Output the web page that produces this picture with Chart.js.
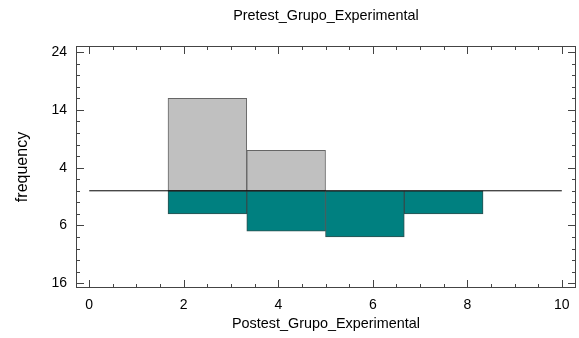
<!DOCTYPE html>
<html>
<head>
  <title>Pretest / Postest histogram</title>
  <meta charset="utf-8" />
  <style>
    html, body { margin: 0; padding: 0; background: #fff; overflow: hidden; }
    #chart { display: block; }
  </style>
</head>
<body>
<canvas id="chart" width="579" height="338"></canvas>

<script src="https://cdn.jsdelivr.net/npm/chart.js"></script>
<script>
  // data
  var binCenters = [2.5, 4.167, 5.833, 7.5];
  var pretestFreq = [16, 7, 0, 0];
  var postestFreq = [4, 7, 8, 4];
  var xTicks = [0, 2, 4, 6, 8, 10];
  var yTicks = [-16, -6, 4, 14, 24];
  var zeroLineX = [0, 10];

  var FONT = 'Liberation Sans, Arial, sans-serif';

  // frame round the plot plus inward major/minor ticks, like the original
  var framePlugin = {
    id: 'frame',
    afterDatasetsDraw: function(chart) {
      var ctx = chart.ctx, a = chart.chartArea;
      var xs = chart.scales.x, ys = chart.scales.y;
      ctx.save();
      ctx.strokeStyle = '#444';
      ctx.lineWidth = 1;
      ctx.strokeRect(Math.round(a.left) + 0.5, Math.round(a.top) + 0.5,
        Math.round(a.right - a.left) - 1, Math.round(a.bottom - a.top) - 1);
      ctx.beginPath();
      var v, p, len;
      for (v = 0; v <= 10.001; v += 0.5) {
        p = Math.round(xs.getPixelForValue(v)) + 0.5;
        len = xTicks.indexOf(Math.round(v * 10) / 10) >= 0 ? 8 : 4;
        ctx.moveTo(p, a.bottom); ctx.lineTo(p, a.bottom - len);
        ctx.moveTo(p, a.top); ctx.lineTo(p, a.top + len);
      }
      for (v = -16; v <= 24; v += 2) {
        p = Math.round(ys.getPixelForValue(v)) + 0.5;
        len = yTicks.indexOf(v) >= 0 ? 8 : 4;
        ctx.moveTo(a.left, p); ctx.lineTo(a.left + len, p);
        ctx.moveTo(a.right, p); ctx.lineTo(a.right - len, p);
      }
      ctx.stroke();
      ctx.restore();
    }
  };

  var ctx = document.getElementById('chart').getContext('2d');
  var chart = new Chart(ctx, {
    type: 'bar',
    data: {
      datasets: [{
        type: 'line',
        data: zeroLineX.map(function(x) { return { x: x, y: 0 }; }),
        borderColor: '#000',
        borderWidth: 1,
        pointRadius: 0,
        order: 0
      }, {
        label: 'Pretest_Grupo_Experimental',
        data: binCenters.map(function(x, i) { return { x: x, y: pretestFreq[i] || null }; }),
        backgroundColor: '#c0c0c0',
        borderColor: '#666',
        borderWidth: 1,
        borderSkipped: false,
        grouped: false,
        barPercentage: 1,
        categoryPercentage: 1,
        order: 1
      }, {
        label: 'Postest_Grupo_Experimental',
        data: binCenters.map(function(x, i) { return { x: x, y: -postestFreq[i] }; }),
        backgroundColor: '#008080',
        borderColor: '#2f4f4f',
        borderWidth: 1,
        borderSkipped: false,
        grouped: false,
        barPercentage: 1,
        categoryPercentage: 1,
        order: 1
      }]
    },
    options: {
      responsive: false,
      animation: false,
      layout: { padding: { left: 0, right: 3, top: 0, bottom: 0 } },
      plugins: {
        legend: { display: false },
        tooltip: { enabled: false }
      },
      scales: {
        x: {
          type: 'linear',
          position: 'bottom',
          min: -0.28,
          max: 10.3,
          offset: false,
          afterBuildTicks: function(s) { s.ticks = xTicks.map(function(v) { return { value: v }; }); },
          afterFit: function(s) { s.height = 50; },
          grid: { display: false, drawTicks: false },
          border: { display: false },
          ticks: { padding: 9, color: '#000', font: { family: FONT, size: 14 } },
          title: {
            display: true,
            text: 'Postest_Grupo_Experimental',
            color: '#000',
            font: { family: FONT, size: 14.4 },
            padding: { top: 0, bottom: 5 }
          }
        },
        x2: {
          type: 'linear',
          axis: 'x',
          position: 'top',
          min: -0.28,
          max: 10.3,
          afterFit: function(s) { s.height = 46; },
          grid: { display: false, drawTicks: false },
          border: { display: false },
          ticks: { display: false },
          title: {
            display: true,
            text: 'Pretest_Grupo_Experimental',
            color: '#000',
            font: { family: FONT, size: 14.4 },
            padding: { top: 7, bottom: 0 }
          }
        },
        y: {
          min: -16.83,
          max: 25.07,
          afterBuildTicks: function(s) { s.ticks = yTicks.map(function(v) { return { value: v }; }); },
          afterFit: function(s) { s.width = 76; },
          grid: { display: false, drawTicks: false },
          border: { display: false },
          ticks: {
            padding: 9,
            color: '#000',
            font: { family: FONT, size: 14 },
            callback: function(value) { return Math.abs(value); }
          },
          title: {
            display: true,
            text: 'frequency',
            color: '#000',
            font: { family: FONT, size: 16 },
            padding: { top: 13, bottom: 0 }
          }
        }
      }
    },
    plugins: [framePlugin]
  });
</script>
</body>
</html>
